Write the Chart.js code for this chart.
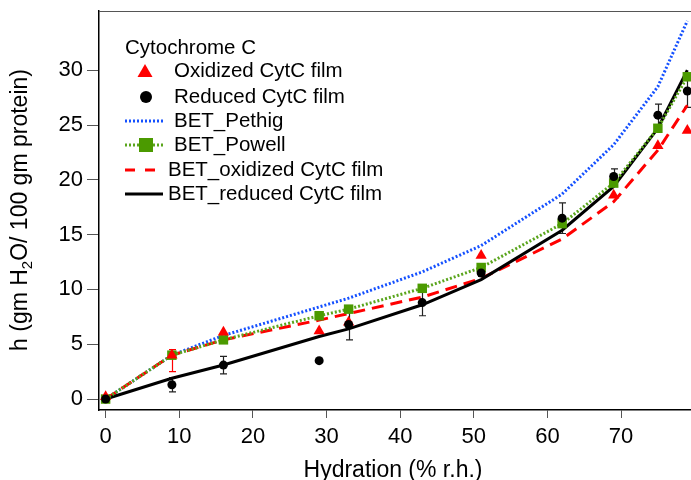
<!DOCTYPE html>
<html>
<head>
<meta charset="utf-8">
<script src="https://cdn.jsdelivr.net/npm/chart.js@4.4.1/dist/chart.umd.min.js"></script>
<style>
  html, body { margin: 0; padding: 0; background: #fff; }
  #wrap { width: 691px; height: 480px; position: relative; }
</style>
</head>
<body>
<div id="wrap"><canvas id="chart"></canvas></div>
<script>
// --- data ---
const hydration = [0, 9, 16, 29, 33, 43, 51, 62, 69, 75, 79];
const oxidized = [0.2, 4.0, 6.1, 6.2, 7.0, null, 13.1, null, 18.6, 23.1, 24.5];
const oxErrLow = [0, 1.5, 0, 0, 0, 0, 0, 0, 0, 0, 0];
const oxErrHigh = [0, 0.5, 0, 0, 0, 0, 0, 0, 0, 0, 0];
const reduced = [0, 1.3, 3.1, 3.5, 6.8, 8.8, 11.5, 16.5, 20.3, 25.9, 28.1];
const redErr = [0, 0.65, 0.8, 0, 1.4, 1.2, 0.3, 1.4, 0.7, 1.0, 1.5];
const betPethig = [0, 4.0, 5.8, 8.4, 9.2, 11.6, 14.0, 18.7, 23.2, 28.5, 34.5];
const betPowell = [0, 4.0, 5.4, 7.6, 8.2, 10.1, 12.0, 16.0, 19.7, 24.7, 29.4];
const betOxidized = [0, 4.0, 5.4, 7.2, 7.8, 9.3, 11.0, 14.6, 18.0, 22.7, 26.8];
const betReduced = [0, 1.9, 3.1, 5.7, 6.4, 8.6, 10.9, 15.4, 19.4, 24.7, 30.0];

const xTicks = [0, 10, 20, 30, 40, 50, 60, 70];
const yTicks = [0, 5, 10, 15, 20, 25, 30];

const legendTitle = "Cytochrome C";
const seriesNames = ["Oxidized CytC film", "Reduced CytC film", "BET_Pethig",
  "BET_Powell", "BET_oxidized CytC film", "BET_reduced CytC film"];
const xTitle = "Hydration (% r.h.)";
const yTitleParts = ["h (gm H", "2", "O/ 100 gm protein)"];

const FONT = '"Liberation Sans", Arial, sans-serif';
const RED = "#ff0000", BLUE = "#1450ff", GREEN = "#4b9a00", GREEN_LINE = "#5aa51c";

const pts = (ys) => hydration.map((x, i) => ({ x, y: ys[i] })).filter((p) => p.y != null);

// error bars under the markers
const errorBars = {
  id: "errorBars",
  beforeDatasetsDraw(chart) {
    const { ctx, scales: { x, y } } = chart;
    const bars = (vals, lo, hi, color) => {
      ctx.save();
      ctx.strokeStyle = color;
      ctx.lineWidth = 1.2;
      vals.forEach((v, i) => {
        if (v == null || (!lo[i] && !hi[i])) return;
        const px = Math.round(x.getPixelForValue(hydration[i])) + 0.5;
        const y1 = y.getPixelForValue(v - lo[i]);
        const y2 = y.getPixelForValue(v + hi[i]);
        ctx.beginPath();
        ctx.moveTo(px, y1); ctx.lineTo(px, y2);
        ctx.moveTo(px - 3.5, y1); ctx.lineTo(px + 3.5, y1);
        ctx.moveTo(px - 3.5, y2); ctx.lineTo(px + 3.5, y2);
        ctx.stroke();
      });
      ctx.restore();
    };
    bars(oxidized, oxErrLow, oxErrHigh, RED);
    bars(reduced, redErr, redErr, "#222");
  },
};

// legend box, axis titles and top frame line
const decorations = {
  id: "decorations",
  afterDraw(chart) {
    const { ctx, chartArea: a } = chart;
    ctx.save();
    // top frame
    ctx.strokeStyle = "#555";
    ctx.lineWidth = 1;
    ctx.beginPath();
    ctx.moveTo(a.left, a.top + 0.5);
    ctx.lineTo(a.right, a.top + 0.5);
    ctx.stroke();

    // legend
    ctx.fillStyle = "#000";
    ctx.textBaseline = "middle";
    ctx.textAlign = "left";
    ctx.font = "20.5px " + FONT;
    const lx = a.left + 26, sx = a.left + 46, tx = a.left + 75, tx2 = a.left + 69;
    ctx.fillText(legendTitle, lx, 48);
    const rowY = [71, 97, 121, 145, 170, 194];

    // triangle
    ctx.fillStyle = RED;
    ctx.beginPath();
    ctx.moveTo(sx, rowY[0] - 7);
    ctx.lineTo(sx + 7.5, rowY[0] + 6);
    ctx.lineTo(sx - 7.5, rowY[0] + 6);
    ctx.closePath();
    ctx.fill();
    // circle
    ctx.fillStyle = "#000";
    ctx.beginPath();
    ctx.arc(sx + 1, rowY[1], 6, 0, Math.PI * 2);
    ctx.fill();
    // lines
    const seg = (y, color, dash, w) => {
      ctx.strokeStyle = color;
      ctx.lineWidth = w;
      ctx.setLineDash(dash);
      ctx.beginPath();
      ctx.moveTo(lx, y);
      ctx.lineTo(lx + 38, y);
      ctx.stroke();
      ctx.setLineDash([]);
    };
    seg(rowY[2], BLUE, [2, 2], 3);
    seg(rowY[3], GREEN_LINE, [2, 2], 3);
    ctx.fillStyle = GREEN;
    ctx.fillRect(sx - 6, rowY[3] - 7, 14, 14);
    seg(rowY[4], RED, [10, 10], 3);
    seg(rowY[5], "#000", [], 3);

    ctx.fillStyle = "#000";
    ctx.fillText(seriesNames[0], tx, rowY[0]);
    ctx.fillText(seriesNames[1], tx, rowY[1]);
    ctx.fillText(seriesNames[2], tx, rowY[2]);
    ctx.fillText(seriesNames[3], tx, rowY[3]);
    ctx.fillText(seriesNames[4], tx2, rowY[4]);
    ctx.fillText(seriesNames[5], tx2, rowY[5]);

    // x title
    ctx.textAlign = "center";
    ctx.textBaseline = "alphabetic";
    ctx.font = "23px " + FONT;
    ctx.fillText(xTitle, 393, 477);

    // y title with subscript
    ctx.translate(27, 210);
    ctx.rotate(-Math.PI / 2);
    ctx.textAlign = "left";
    const big = "23px " + FONT, small = "15px " + FONT;
    ctx.font = big;
    const w0 = ctx.measureText(yTitleParts[0]).width;
    const w2 = ctx.measureText(yTitleParts[2]).width;
    ctx.font = small;
    const w1 = ctx.measureText(yTitleParts[1]).width;
    let px = -(w0 + w1 + w2) / 2;
    ctx.font = big;
    ctx.fillText(yTitleParts[0], px, 0);
    px += w0;
    ctx.font = small;
    ctx.fillText(yTitleParts[1], px, 5);
    px += w1;
    ctx.font = big;
    ctx.fillText(yTitleParts[2], px, 0);
    ctx.restore();
  },
};

new Chart(document.getElementById("chart"), {
  type: "scatter",
  data: {
    datasets: [
      {
        label: seriesNames[1],
        data: pts(reduced),
        showLine: false,
        pointStyle: "circle",
        pointRadius: 4.5,
        backgroundColor: "#000",
        borderColor: "#000",
        borderWidth: 0,
      },
      {
        label: seriesNames[0],
        data: pts(oxidized),
        showLine: false,
        pointStyle: "triangle",
        pointRadius: 6.5,
        backgroundColor: RED,
        borderColor: RED,
        borderWidth: 0,
      },
      {
        label: seriesNames[3],
        data: pts(betPowell),
        showLine: true,
        borderColor: GREEN_LINE,
        borderWidth: 3,
        borderDash: [2, 2],
        pointStyle: "rect",
        pointRadius: 6.7,
        pointBackgroundColor: GREEN,
        pointBorderWidth: 0,
      },
      {
        label: seriesNames[5],
        data: pts(betReduced),
        showLine: true,
        borderColor: "#000",
        borderWidth: 3,
        pointRadius: 0,
      },
      {
        label: seriesNames[4],
        data: pts(betOxidized),
        showLine: true,
        borderColor: RED,
        borderWidth: 3,
        borderDash: [12, 7],
        pointRadius: 0,
      },
      {
        label: seriesNames[2],
        data: pts(betPethig),
        showLine: true,
        borderColor: BLUE,
        borderWidth: 3,
        borderDash: [2, 2],
        pointRadius: 0,
      },
    ],
  },
  options: {
    responsive: true,
    maintainAspectRatio: false,
    animation: false,
    devicePixelRatio: 1,
    layout: { autoPadding: false, padding: { top: 11, right: 0, left: 0, bottom: 0 } },
    plugins: { legend: { display: false }, tooltip: { enabled: false } },
    scales: {
      x: {
        type: "linear",
        min: -0.9,
        max: 79.5,
        afterBuildTicks: (s) => { s.ticks = xTicks.map((v) => ({ value: v })); },
        afterFit: (s) => { s.height = 70; s.paddingLeft = 0; s.paddingRight = 0; },
        grid: { drawOnChartArea: false, tickLength: 8, color: "#555" },
        border: { color: "#000", width: 1.5 },
        ticks: { color: "#000", font: { family: FONT, size: 22 }, padding: 6, maxRotation: 0, autoSkip: false },
      },
      y: {
        min: -1,
        max: 35.4,
        afterBuildTicks: (s) => { s.ticks = yTicks.map((v) => ({ value: v })); },
        afterFit: (s) => { s.width = 99; s.paddingTop = 0; s.paddingBottom = 0; },
        grid: { drawOnChartArea: false, tickLength: 12, color: "#555" },
        border: { color: "#000", width: 1.5 },
        ticks: { color: "#000", font: { family: FONT, size: 22 }, padding: 4, autoSkip: false },
      },
    },
  },
  plugins: [errorBars, decorations],
});
</script>
</body>
</html>
